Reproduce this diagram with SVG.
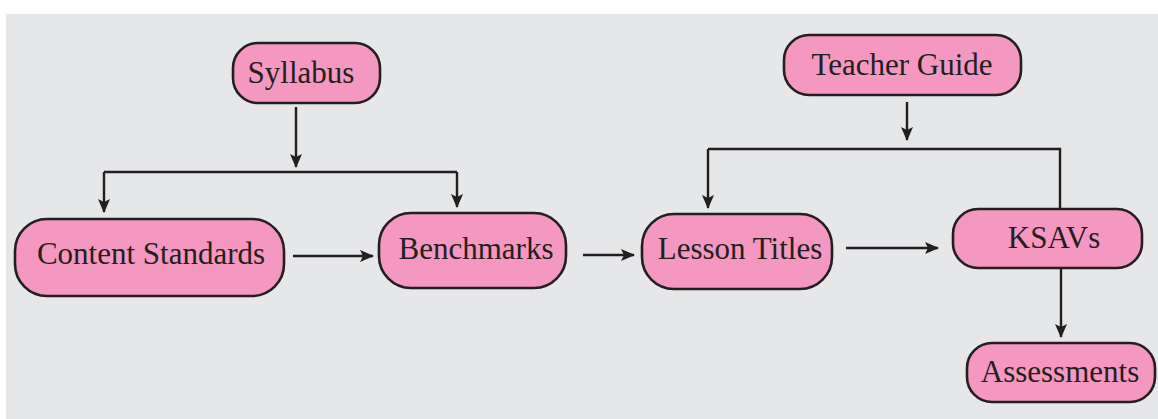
<svg xmlns="http://www.w3.org/2000/svg" width="1158" height="419" viewBox="0 0 1158 419">
<style>
.node rect{fill:#F497C1;stroke:#231F20;stroke-width:2.6}
.node text{font-family:"Liberation Serif",serif;font-size:31px;fill:#231F20;text-anchor:middle}
.conn path{fill:none;stroke:#231F20;stroke-width:2.4}
</style>
<defs>
<marker id="ah" markerUnits="userSpaceOnUse" markerWidth="14" markerHeight="12" refX="13" refY="6" orient="auto">
<path d="M0,0 L14,6 L0,12 L3,6 Z" fill="#231F20"/>
</marker>
</defs>
<rect x="0" y="0" width="1158" height="419" fill="#FFFFFF"/>
<rect x="6" y="14" width="1152" height="405" fill="#E6E7E8"/>
<g class="conn">
<path d="M296,107 V167" marker-end="url(#ah)"/>
<path d="M104,172 H457"/>
<path d="M104,172 V212" marker-end="url(#ah)"/>
<path d="M457,172 V207" marker-end="url(#ah)"/>
<path d="M293,256 H373" marker-end="url(#ah)"/>
<path d="M583,255 H634" marker-end="url(#ah)"/>
<path d="M907,102 V140" marker-end="url(#ah)"/>
<path d="M708,149 H1060 V209"/>
<path d="M708,149 V208" marker-end="url(#ah)"/>
<path d="M846,248 H938" marker-end="url(#ah)"/>
<path d="M1061,268 V337" marker-end="url(#ah)"/>
</g>
<g id="syllabus" class="node"><rect x="233" y="43" width="147" height="60" rx="25"/><text x="301" y="83">Syllabus</text></g>
<g id="content-standards" class="node"><rect x="15" y="219" width="269" height="77" rx="32"/><text x="151" y="264">Content Standards</text></g>
<g id="benchmarks" class="node"><rect x="379" y="213" width="187" height="75" rx="32"/><text x="476" y="259">Benchmarks</text></g>
<g id="lesson-titles" class="node"><rect x="642" y="214" width="190" height="75" rx="32"/><text x="740" y="259">Lesson Titles</text></g>
<g id="teacher-guide" class="node"><rect x="784" y="35" width="237" height="60" rx="25"/><text x="902" y="75">Teacher Guide</text></g>
<g id="ksavs" class="node"><rect x="953" y="209" width="189" height="59" rx="25"/><text x="1054" y="248">KSAVs</text></g>
<g id="assessments" class="node"><rect x="967" y="343" width="188" height="59" rx="25"/><text x="1060" y="382">Assessments</text></g>
</svg>
